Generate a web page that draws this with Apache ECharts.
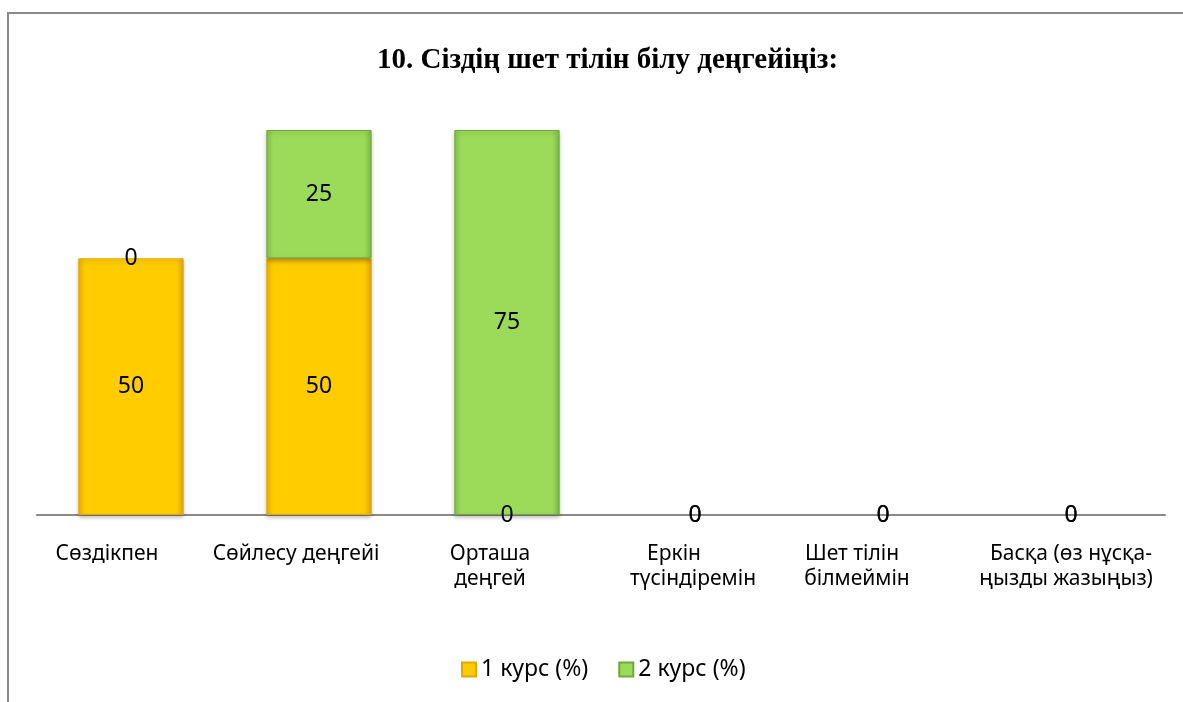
<!DOCTYPE html>
<html>
<head>
<meta charset="utf-8">
<style>
  html, body { margin: 0; padding: 0; background: #fff; }
  #chart { width: 1183px; height: 702px; }
</style>
<script src="https://cdn.jsdelivr.net/npm/echarts@6/dist/echarts.min.js"></script>
</head>
<body>
<div id="chart"></div>
<script>
// data
const categories = [
  'Сөздікпен',
  'Сөйлесу деңгейі',
  'Орташа\nдеңгей',
  'Еркін\nтүсіндіремін',
  'Шет тілін\nбілмеймін',
  'Басқа (өз нұсқа-\nңызды жазыңыз)'
]
const course1 = [50, 50, 0, 0, 0, 0]
const course2 = [0, 25, 75, 0, 0, 0]
const seriesNames = ['1 курс (%)', '2 курс (%)']

// how far left each label line sits from its bar centre in the original (px)
const labelShift = [[24], [23], [17, 17], [21, 2], [31, 26], [0, 5]]

const chart = echarts.init(document.getElementById('chart'))

const yellow = new echarts.graphic.LinearGradient(0, 0, 1, 0, [
  { offset: 0, color: '#f0b500' },
  { offset: 0.07, color: '#ffcc00' },
  { offset: 0.93, color: '#ffcc00' },
  { offset: 1, color: '#e6aa00' }
])
const green = new echarts.graphic.LinearGradient(0, 0, 1, 0, [
  { offset: 0, color: '#86c84a' },
  { offset: 0.07, color: '#9bdb59' },
  { offset: 0.93, color: '#9bdb59' },
  { offset: 1, color: '#7fbd45' }
])

const labelStyle = {
  show: true,
  position: 'inside',
  color: '#000',
  fontFamily: 'Noto Sans',
  fontSize: 23
}

// zero-height bars draw nothing but still carry their label
const hideZero = (values) => values.map(v => v === 0
  ? { value: v, itemStyle: { color: 'transparent', borderColor: 'transparent', shadowColor: 'transparent' } }
  : v)

// rich styles for the shifted axis label lines
const axisRich = {}
labelShift.flat().forEach(k => {
  axisRich['s' + k] = {
    fontFamily: 'Noto Sans',
    fontSize: 21,
    color: '#000',
    lineHeight: 25,
    padding: [0, 2 * k, 0, 0]
  }
})

chart.setOption({
  animation: false,
  title: {
    text: '10. Сіздің шет тілін білу деңгейіңіз:',
    left: 372,
    top: 41,
    textStyle: {
      fontFamily: 'Liberation Serif',
      fontWeight: 'bold',
      fontSize: 29,
      color: '#000'
    }
  },
  graphic: [
    {
      type: 'polyline',
      shape: { points: [[8, 702], [8, 13], [1183, 13]] },
      style: { stroke: '#8a8a8a', lineWidth: 2, fill: null }
    }
  ],
  legend: {
    bottom: 16,
    left: 456,
    icon: 'rect',
    itemWidth: 14,
    itemHeight: 14,
    itemGap: 30,
    textStyle: { fontFamily: 'Noto Sans', fontSize: 23, color: '#000' },
    data: seriesNames
  },
  grid: {
    left: 37,
    right: 18,
    top: 130,
    bottom: 187
  },
  xAxis: {
    type: 'category',
    data: categories,
    axisLine: { lineStyle: { color: '#8a8a8a', width: 2 } },
    axisTick: { show: false },
    axisLabel: {
      color: '#000',
      fontFamily: 'Noto Sans',
      fontSize: 21,
      lineHeight: 25,
      margin: 27,
      interval: 0,
      formatter: (value, index) => value.split('\n')
        .map((line, j) => '{s' + labelShift[index][j] + '|' + line + '}')
        .join('\n'),
      rich: axisRich
    }
  },
  yAxis: {
    type: 'value',
    min: 0,
    max: 75,
    show: false,
    splitLine: { show: false }
  },
  series: [
    {
      name: seriesNames[0],
      type: 'bar',
      stack: 'total',
      barWidth: '56%',
      data: hideZero(course1),
      itemStyle: {
        color: yellow,
        borderColor: '#e0a800',
        borderWidth: 1,
        shadowColor: 'rgba(0,0,0,0.25)',
        shadowBlur: 4,
        shadowOffsetY: 2
      },
      label: labelStyle
    },
    {
      name: seriesNames[1],
      type: 'bar',
      stack: 'total',
      barWidth: '56%',
      data: hideZero(course2),
      itemStyle: {
        color: green,
        borderColor: '#6fa83a',
        borderWidth: 1,
        shadowColor: 'rgba(0,0,0,0.25)',
        shadowBlur: 4,
        shadowOffsetY: 2
      },
      label: labelStyle
    }
  ]
})
</script>
</body>
</html>
